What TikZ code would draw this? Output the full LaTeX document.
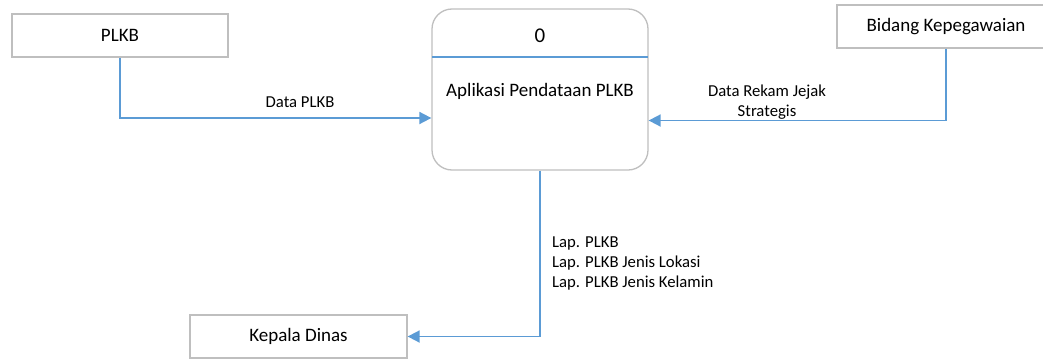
\documentclass[tikz,border=0pt]{standalone}
\usepackage{fontspec}
\setmainfont{Carlito}
\usetikzlibrary{arrows.meta,calc}
\definecolor{flow}{HTML}{5B9BD5}
\definecolor{edge}{HTML}{BFBFBF}
\tikzset{
  entity/.style={draw=edge, line width=1.3pt, fill=white, minimum width=216pt, minimum height=43pt, inner sep=0pt, font=\fontsize{19}{22}\selectfont},
  procbox/.style={draw=edge, line width=1.3pt, fill=white, rounded corners=20pt, minimum width=216pt, minimum height=161pt, inner sep=0pt},
  flowline/.style={draw=flow, line width=1.8pt, -{Triangle[length=12pt,width=12pt]}},
  lbl/.style={inner sep=0pt, font=\fontsize{16.7}{20}\selectfont},
}
\begin{document}
\begin{tikzpicture}[x=1pt,y=-1pt]
\useasboundingbox (0,0) rectangle (1043,359);
\node[entity] (plkb) at (120,35.5) {PLKB};
\node[entity, minimum width=218pt] (bid) at (946,26.5) {Bidang Kepegawaian};
\node[entity, minimum width=217pt] (kd) at (298.5,336.5) {Kepala Dinas};
\node[procbox] (proc) at (540,89.5) {};
\draw[flow, line width=1.3pt] (432,57) -- (648,57);
\node[inner sep=0pt, font=\fontsize{21}{22}\selectfont] (pid) at (540,36) {0};
\node[inner sep=0pt, font=\fontsize{19}{22}\selectfont] (pname) at (540,91) {Aplikasi Pendataan PLKB};
\coordinate (pin) at ($(proc.west)+(0,28.5)$);
\coordinate (pin2) at ($(proc.east)+(0,31)$);
\draw[flowline] (plkb.south) |- (pin);
\draw[flowline] (bid.south) |- (pin2);
\draw[flowline] (proc.south) |- (kd.east);
\node[lbl] (l1) at (300,102) {Data PLKB};
\node[lbl, align=center] (l2) at (767,102) {Data Rekam Jejak\\Strategis};
\node[lbl, align=left, anchor=west] (l3) at (552,263) {Lap. PLKB\\Lap. PLKB Jenis Lokasi\\Lap. PLKB Jenis Kelamin};
\end{tikzpicture}
\end{document}
